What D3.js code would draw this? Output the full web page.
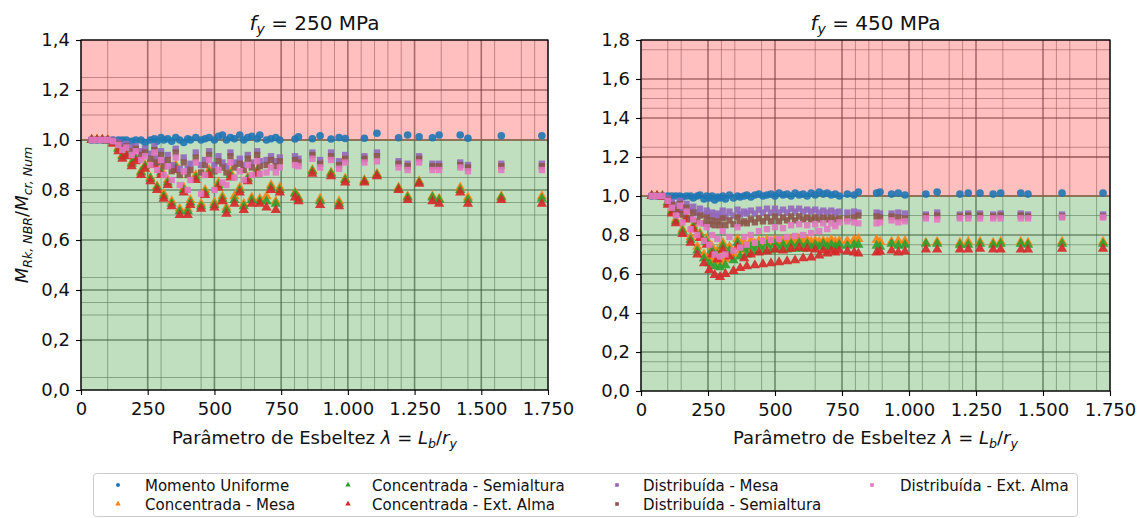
<!DOCTYPE html>
<html><head><meta charset="utf-8">
<script src="https://cdn.jsdelivr.net/npm/d3@7"></script>
<style>body{margin:0;background:#fff;} svg{display:block;font-family:"DejaVu Sans",sans-serif;}</style>
</head><body><svg id="c" width="1141" height="518"></svg>
<script>
// ---------- DATA ----------
const seriesNames = ["Momento Uniforme","Concentrada - Mesa","Concentrada - Semialtura","Concentrada - Ext. Alma","Distribuída - Mesa","Distribuída - Semialtura","Distribuída - Ext. Alma"];
const xTicks = [0,250,500,750,1000,1250,1500,1750];
const yTicks250 = [0,0.2,0.4,0.6,0.8,1.0,1.2,1.4];
const yTicks450 = [0,0.2,0.4,0.6,0.8,1.0,1.2,1.4,1.6,1.8];
const xMinorGrid250 = [100,300,450,600,650,800,850,900,950,1050,1100,1150,1200,1350,1450,1550,1650,1700];
const yMinorGrid250 = [0.05,0.3,0.35,0.45,0.7,0.75,0.85,1.1,1.15,1.25];
const xMinorGrid450 = [100,150,300,350,450,650,800,850,900,1050,1150,1200,1350,1550,1600,1700];
const yMinorGrid450 = [0.1,0.15,0.3,0.35,0.55,0.7,0.75,0.9,1.2,1.25,1.45,1.5,1.55,1.75];

// fy = 250 MPa
const lam250 = [40,60,80,100,120,140,155,170,190,205,225,240,260,275,285,300,310,325,340,355,370,385,400,410,430,450,465,480,500,515,530,545,560,575,595,610,625,640,660,670,695,712,730,745,802,815,867,896,937,967,990,1062,1109,1190,1224,1267,1317,1342,1421,1450,1575,1727];
const mu250 = [1,1,1,1,1,1,1,1,0.995,1,1,0.99,1,1.005,0.995,1.01,1,1.005,0.995,1.01,1,0.99,1.005,1,1.01,1,1.005,1.01,1,1.015,1.02,1,1.01,1.005,1.02,1,1.01,1.015,1.005,1.02,1,1.005,1.01,1,1.004,1.013,1.005,1.017,1.004,1.01,1.006,1.007,1.027,1.009,1.02,1.013,1.009,1.02,1.02,1.007,1.017,1.017];
const cm250 = [1,1,1,1,0.99,0.97,0.94,0.95,0.91,0.93,0.875,0.9,0.85,0.92,0.815,0.88,0.785,0.84,0.755,0.9,0.725,0.81,0.725,0.76,0.86,0.745,0.8,0.88,0.75,0.83,0.775,0.73,0.87,0.775,0.81,0.745,0.85,0.77,0.88,0.765,0.775,0.82,0.755,0.81,0.79,0.77,0.88,0.765,0.87,0.755,0.845,0.84,0.865,0.81,0.775,0.835,0.775,0.765,0.81,0.77,0.775,0.775];
const cs250 = [1,1,1,0.998,0.99,0.965,0.935,0.945,0.905,0.925,0.87,0.895,0.845,0.91,0.81,0.87,0.775,0.83,0.745,0.89,0.715,0.8,0.715,0.75,0.85,0.735,0.79,0.87,0.74,0.82,0.765,0.72,0.86,0.76,0.8,0.735,0.845,0.76,0.875,0.755,0.755,0.81,0.745,0.8,0.785,0.765,0.875,0.755,0.865,0.745,0.84,0.835,0.86,0.805,0.77,0.83,0.77,0.76,0.8,0.76,0.77,0.765];
const ce250 = [1,1,1,0.998,0.985,0.955,0.925,0.935,0.895,0.915,0.86,0.885,0.835,0.9,0.8,0.86,0.765,0.82,0.735,0.88,0.7,0.79,0.7,0.74,0.84,0.725,0.78,0.86,0.73,0.81,0.755,0.705,0.85,0.745,0.79,0.72,0.835,0.745,0.865,0.745,0.73,0.8,0.72,0.79,0.77,0.755,0.865,0.74,0.855,0.735,0.83,0.83,0.855,0.8,0.76,0.825,0.755,0.745,0.79,0.745,0.76,0.745];
const dm250 = [1,1,1,1,1,0.99,0.98,0.985,0.97,0.975,0.955,0.965,0.945,0.975,0.93,0.955,0.915,0.94,0.9,0.965,0.885,0.93,0.885,0.905,0.95,0.9,0.92,0.955,0.9,0.935,0.91,0.895,0.95,0.91,0.925,0.9,0.94,0.91,0.955,0.915,0.92,0.935,0.915,0.93,0.935,0.925,0.95,0.92,0.95,0.915,0.94,0.935,0.95,0.915,0.905,0.935,0.905,0.905,0.91,0.9,0.905,0.905];
const ds250 = [1,1,1,1,0.995,0.985,0.97,0.975,0.955,0.965,0.94,0.95,0.925,0.96,0.91,0.94,0.895,0.92,0.875,0.95,0.86,0.91,0.86,0.88,0.93,0.87,0.9,0.94,0.875,0.915,0.89,0.87,0.935,0.89,0.905,0.88,0.925,0.89,0.94,0.895,0.9,0.92,0.895,0.915,0.92,0.91,0.94,0.905,0.935,0.9,0.925,0.925,0.935,0.905,0.895,0.925,0.895,0.895,0.9,0.89,0.895,0.895];
const de250 = [1,1,1,1,0.995,0.98,0.96,0.97,0.94,0.955,0.92,0.935,0.9,0.95,0.88,0.92,0.86,0.895,0.84,0.93,0.82,0.875,0.8,0.84,0.91,0.785,0.86,0.92,0.8,0.88,0.83,0.82,0.91,0.85,0.875,0.84,0.9,0.86,0.915,0.865,0.87,0.89,0.87,0.89,0.9,0.895,0.925,0.89,0.92,0.885,0.91,0.91,0.915,0.89,0.88,0.91,0.88,0.88,0.89,0.875,0.88,0.88];

// fy = 450 MPa
const lam450 = [40,60,80,100,115,130,145,155,170,185,195,210,220,235,245,255,265,275,285,295,305,315,330,345,360,370,385,395,410,425,440,455,470,485,500,515,530,545,560,575,590,605,620,635,650,665,680,695,710,725,740,770,795,811,879,892,935,960,985,1063,1105,1190,1221,1265,1314,1342,1417,1444,1571,1724];
const mu450 = [1,1,1,1,1,1,1,0.995,1,1,0.99,1,1.005,0.985,1,0.99,1,0.98,0.995,0.99,1,0.985,1.005,0.99,1,0.995,1,1.005,0.995,1.005,1.01,1,1.005,1.01,1,1.015,1.005,1.01,1,1.015,1.005,1.01,1,1.015,1.005,1.02,1.01,1.015,1.005,1.01,1,1.01,1.005,1.02,1.015,1.02,1.01,1.015,1.005,1.01,1.02,1.01,1.015,1.015,1.01,1.015,1.015,1.01,1.015,1.015];
const cm450 = [1,1,1,0.97,0.93,0.88,0.94,0.83,0.9,0.79,0.85,0.74,0.81,0.7,0.78,0.68,0.74,0.67,0.72,0.66,0.76,0.675,0.74,0.7,0.78,0.72,0.76,0.73,0.77,0.755,0.77,0.765,0.775,0.765,0.775,0.765,0.77,0.765,0.775,0.765,0.78,0.765,0.775,0.765,0.77,0.765,0.77,0.765,0.775,0.765,0.77,0.77,0.775,0.78,0.775,0.765,0.765,0.77,0.77,0.76,0.765,0.76,0.765,0.765,0.76,0.765,0.765,0.76,0.765,0.765];
const cs450 = [1,1,1,0.965,0.92,0.87,0.935,0.82,0.89,0.775,0.84,0.72,0.8,0.68,0.765,0.655,0.72,0.64,0.7,0.635,0.745,0.645,0.72,0.67,0.76,0.69,0.73,0.7,0.74,0.715,0.745,0.72,0.75,0.72,0.755,0.725,0.75,0.725,0.755,0.73,0.76,0.73,0.755,0.735,0.75,0.74,0.755,0.74,0.75,0.74,0.75,0.745,0.75,0.75,0.745,0.74,0.755,0.745,0.75,0.755,0.755,0.75,0.75,0.755,0.75,0.755,0.755,0.75,0.755,0.755];
const ce450 = [1,1,0.995,0.955,0.91,0.86,0.925,0.805,0.88,0.76,0.83,0.7,0.785,0.655,0.75,0.62,0.7,0.595,0.675,0.585,0.725,0.6,0.69,0.615,0.74,0.63,0.68,0.64,0.7,0.645,0.71,0.65,0.715,0.655,0.725,0.66,0.72,0.665,0.73,0.67,0.735,0.68,0.73,0.685,0.725,0.695,0.72,0.705,0.72,0.71,0.72,0.715,0.71,0.705,0.71,0.715,0.72,0.71,0.715,0.725,0.725,0.725,0.725,0.73,0.725,0.725,0.725,0.725,0.73,0.73];
const dm450 = [1,1,1,0.99,0.97,0.955,0.975,0.94,0.96,0.925,0.945,0.915,0.935,0.905,0.925,0.9,0.915,0.895,0.91,0.895,0.925,0.895,0.92,0.9,0.93,0.905,0.92,0.91,0.925,0.91,0.93,0.915,0.935,0.915,0.935,0.915,0.93,0.915,0.935,0.92,0.935,0.92,0.93,0.92,0.93,0.915,0.925,0.915,0.925,0.915,0.92,0.915,0.92,0.915,0.915,0.91,0.91,0.915,0.91,0.905,0.915,0.905,0.91,0.91,0.905,0.91,0.91,0.905,0.905,0.905];
const ds450 = [1,1,1,0.98,0.955,0.93,0.96,0.905,0.94,0.885,0.915,0.87,0.9,0.86,0.89,0.855,0.875,0.85,0.87,0.85,0.885,0.85,0.875,0.855,0.89,0.86,0.87,0.86,0.88,0.865,0.885,0.87,0.89,0.87,0.895,0.87,0.89,0.875,0.895,0.875,0.895,0.88,0.89,0.88,0.89,0.88,0.89,0.88,0.89,0.88,0.885,0.885,0.89,0.9,0.895,0.89,0.895,0.89,0.885,0.895,0.9,0.895,0.9,0.9,0.895,0.9,0.9,0.895,0.895,0.895];
const de450 = [1,1,1,0.975,0.94,0.9,0.95,0.865,0.92,0.83,0.88,0.8,0.86,0.77,0.84,0.75,0.8,0.7,0.78,0.69,0.82,0.7,0.79,0.72,0.84,0.735,0.79,0.75,0.8,0.76,0.82,0.77,0.83,0.775,0.84,0.78,0.835,0.79,0.85,0.795,0.855,0.8,0.85,0.81,0.855,0.82,0.86,0.83,0.86,0.845,0.865,0.87,0.865,0.86,0.86,0.865,0.875,0.865,0.87,0.885,0.88,0.885,0.885,0.885,0.885,0.885,0.885,0.885,0.89,0.89];

// ---------- STYLE ----------
const colors = ["#1f77b4","#ff7f0e","#2ca02c","#d62728","#9467bd","#8c564b","#e377c2"];
const shapes = [d3.symbolCircle,d3.symbolTriangle,d3.symbolTriangle,d3.symbolTriangle,d3.symbolSquare,d3.symbolSquare,d3.symbolSquare];
const sizes = [46,46,46,46,40,40,40];
const FONT = '"DejaVu Sans", sans-serif';

const svg = d3.select("#c");
svg.append("rect").attr("width",1141).attr("height",518).attr("fill","#fff");
const loc = d3.formatLocale({decimal:",",thousands:".",grouping:[3],currency:["",""]});
const fmtX = loc.format(",d"), fmtY = loc.format(".1f");

function rich(textSel, parts, fs){
  parts.forEach(p=>{
    const t = textSel.append("tspan").text(p.t);
    if(p.i) t.attr("font-style","italic");
    if(p.sub){ t.attr("font-size", (fs*0.7)+"px").attr("dy", fs*0.22); }
    if(p.back){ t.attr("dy", -fs*0.22); }
  });
}

function panel(o){
  const x = d3.scaleLinear().domain([0,1750]).range([o.x0,o.x1]);
  const y = d3.scaleLinear().domain([0,o.ymax]).range([o.y0,o.y1]);
  const g = svg.append("g");
  const grid = g.append("g");
  o.xMinor.forEach(v=>grid.append("line").attr("x1",x(v)).attr("x2",x(v)).attr("y1",o.y0).attr("y2",o.y1).attr("stroke","#707070").attr("stroke-opacity",0.55).attr("stroke-width",1));
  o.yMinor.forEach(v=>grid.append("line").attr("y1",y(v)).attr("y2",y(v)).attr("x1",o.x0).attr("x2",o.x1).attr("stroke","#707070").attr("stroke-opacity",0.55).attr("stroke-width",1));
  xTicks.forEach(v=>grid.append("line").attr("x1",x(v)).attr("x2",x(v)).attr("y1",o.y0).attr("y2",o.y1).attr("stroke","#505050").attr("stroke-opacity",0.65).attr("stroke-width",1.6));
  o.yTicks.forEach(v=>grid.append("line").attr("y1",y(v)).attr("y2",y(v)).attr("x1",o.x0).attr("x2",o.x1).attr("stroke","#505050").attr("stroke-opacity",0.65).attr("stroke-width",1.6));
  g.append("rect").attr("x",o.x0).attr("width",o.x1-o.x0).attr("y",y(o.ymax)).attr("height",y(1)-y(o.ymax)).attr("fill","rgb(255,0,0)").attr("fill-opacity",0.25);
  g.append("rect").attr("x",o.x0).attr("width",o.x1-o.x0).attr("y",y(1)).attr("height",y(0)-y(1)).attr("fill","rgb(0,128,0)").attr("fill-opacity",0.25);
  g.append("line").attr("x1",o.x0).attr("x2",o.x1).attr("y1",y(1)).attr("y2",y(1)).attr("stroke","#8a6a4a").attr("stroke-width",1.5);
  o.series.forEach((vals,si)=>{
    const sym = d3.symbol().type(shapes[si]).size(sizes[si]);
    g.append("g").selectAll("path").data(vals.map((v,j)=>[o.lam[j],v])).join("path")
      .attr("d",sym).attr("transform",d=>`translate(${x(d[0])},${y(d[1])})`)
      .attr("fill",colors[si]).attr("fill-opacity",0.9);
  });
  g.append("rect").attr("x",o.x0).attr("y",o.y1).attr("width",o.x1-o.x0).attr("height",o.y0-o.y1).attr("fill","none").attr("stroke","#000").attr("stroke-width",1.2);
  const xa = g.append("g").attr("transform",`translate(0,${o.y0})`);
  xa.call(d3.axisBottom(x).tickValues(d3.range(0,1751,50)).tickSize(3).tickFormat(""));
  xa.call(d3.axisBottom(x).tickValues(xTicks).tickSize(5).tickPadding(7).tickFormat(fmtX));
  const ya = g.append("g").attr("transform",`translate(${o.x0},0)`);
  ya.call(d3.axisLeft(y).tickValues(d3.range(0,Math.round(o.ymax/0.05)+1).map(k=>k*0.05)).tickSize(3).tickFormat(""));
  ya.call(d3.axisLeft(y).tickValues(o.yTicks).tickSize(5).tickPadding(6).tickFormat(fmtY));
  [xa,ya].forEach(a=>{a.selectAll(".domain").remove(); a.selectAll("line").attr("stroke","#000").attr("stroke-width",1.1); a.selectAll("text").attr("font-family",FONT).attr("font-size","18px").attr("fill","#111");});
  const cx = (o.x0+o.x1)/2;
  const tt = svg.append("text").attr("x",cx).attr("y",30).attr("text-anchor","middle").attr("font-size","20px").attr("font-family",FONT).attr("fill","#111");
  rich(tt,[{t:"f",i:true},{t:"y",i:true,sub:true},{t:" = "+o.title,back:true}],20);
  const xl = svg.append("text").attr("x",cx).attr("y",444).attr("text-anchor","middle").attr("font-size","18px").attr("font-family",FONT).attr("fill","#111");
  rich(xl,[{t:"Parâmetro de Esbeltez "},{t:"λ",i:true},{t:" = "},{t:"L",i:true},{t:"b",i:true,sub:true},{t:"/",back:true},{t:"r",i:true},{t:"y",i:true,sub:true}],18);
}

panel({x0:81,x1:548,y0:390,y1:40,ymax:1.4,yTicks:yTicks250,xMinor:xMinorGrid250,yMinor:yMinorGrid250,
  lam:lam250,series:[mu250,cm250,cs250,ce250,dm250,ds250,de250],title:"250 MPa"});
panel({x0:641,x1:1110,y0:391,y1:40,ymax:1.8,yTicks:yTicks450,xMinor:xMinorGrid450,yMinor:yMinorGrid450,
  lam:lam450,series:[mu450,cm450,cs450,ce450,dm450,ds450,de450],title:"450 MPa"});

const yl = svg.append("text").attr("transform","translate(28,215) rotate(-90)").attr("text-anchor","middle").attr("font-size","18px").attr("font-family",FONT).attr("fill","#111");
rich(yl,[{t:"M",i:true},{t:"Rk, NBR",i:true,sub:true},{t:"/",back:true},{t:"M",i:true},{t:"cr, Num",i:true,sub:true}],18);

const lg = svg.append("g");
lg.append("rect").attr("x",93.5).attr("y",473.5).attr("width",984).attr("height",43).attr("rx",3).attr("fill","#fff").attr("stroke","#cccccc");
const colX = [[118,145],[348,372],[617,643],[872,900]];
const rowY = [485,504];
seriesNames.forEach((n,i)=>{
  const c = Math.floor(i/2), r = i%2;
  const [mx,tx] = colX[c];
  lg.append("path").attr("d",d3.symbol().type(shapes[i]).size(13)).attr("transform",`translate(${mx},${rowY[r]})`).attr("fill",colors[i]);
  lg.append("text").attr("x",tx).attr("y",rowY[r]+5.5).attr("font-size","15px").attr("font-family",FONT).attr("fill","#111").text(n);
});
</script></body></html>
